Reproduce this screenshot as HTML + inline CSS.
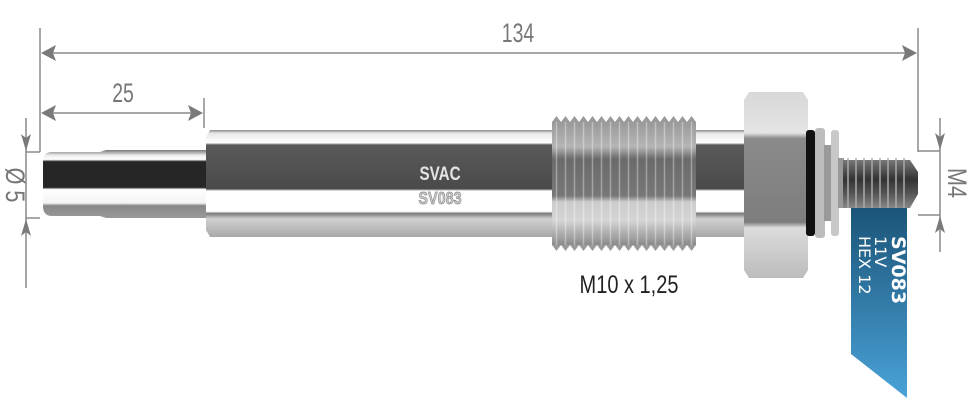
<!DOCTYPE html>
<html><head><style>
html,body{margin:0;padding:0;background:#fff;width:970px;height:403px;overflow:hidden}
</style></head><body>
<svg width="970" height="403" viewBox="0 0 970 403" xmlns="http://www.w3.org/2000/svg" font-family="Liberation Sans, sans-serif">
<defs>
<linearGradient id="body" x1="0" y1="0" x2="0" y2="1">
<stop offset="0" stop-color="#8a8a8a"/><stop offset="0.03" stop-color="#e8e8e8"/><stop offset="0.12" stop-color="#ffffff"/>
<stop offset="0.14" stop-color="#5a5a5a"/><stop offset="0.55" stop-color="#4a4a4a"/>
<stop offset="0.57" stop-color="#ffffff"/><stop offset="0.76" stop-color="#ffffff"/>
<stop offset="0.78" stop-color="#7a7a7a"/><stop offset="0.83" stop-color="#d0d0d0"/><stop offset="1" stop-color="#a8a8a8"/>
</linearGradient>
<linearGradient id="shank" x1="0" y1="0" x2="0" y2="1">
<stop offset="0" stop-color="#777"/><stop offset="0.08" stop-color="#eee"/><stop offset="0.14" stop-color="#fff"/>
<stop offset="0.17" stop-color="#262626"/><stop offset="0.55" stop-color="#262626"/>
<stop offset="0.58" stop-color="#fff"/><stop offset="0.78" stop-color="#f4f4f4"/>
<stop offset="0.82" stop-color="#888"/><stop offset="1" stop-color="#999"/>
</linearGradient>
<linearGradient id="thr" x1="0" y1="0" x2="0" y2="1">
<stop offset="0" stop-color="#999"/><stop offset="0.2" stop-color="#b5b5b5"/><stop offset="0.3" stop-color="#6a6a6a"/>
<stop offset="0.6" stop-color="#777"/><stop offset="0.65" stop-color="#ccc"/><stop offset="0.8" stop-color="#d5d5d5"/><stop offset="1" stop-color="#8a8a8a"/>
</linearGradient>
<pattern id="teeth" x="552" y="0" width="9" height="10" patternUnits="userSpaceOnUse">
<rect width="9" height="10" fill="none"/><line x1="4.5" y1="0" x2="4.5" y2="10" stroke="#ffffff" stroke-opacity="0.35" stroke-width="1.5"/>
</pattern>
<linearGradient id="nut" x1="0" y1="0" x2="0" y2="1">
<stop offset="0" stop-color="#d8d8d8"/><stop offset="0.22" stop-color="#e4e4e4"/><stop offset="0.25" stop-color="#8a8a8a"/>
<stop offset="0.7" stop-color="#7d7d7d"/><stop offset="0.73" stop-color="#dcdcdc"/><stop offset="1" stop-color="#bcbcbc"/>
</linearGradient>
<linearGradient id="term" x1="0" y1="0" x2="0" y2="1">
<stop offset="0" stop-color="#777"/><stop offset="0.4" stop-color="#333"/><stop offset="0.7" stop-color="#555"/><stop offset="1" stop-color="#888"/>
</linearGradient>
<linearGradient id="tag" x1="0" y1="0" x2="0" y2="1">
<stop offset="0" stop-color="#1b5478"/><stop offset="1" stop-color="#4aa2d8"/>
</linearGradient>
</defs>

<g stroke="#8a8a8a" stroke-width="1.5" fill="#7a7a7a">
<line x1="40" y1="28" x2="40" y2="152"/>
<line x1="918" y1="28" x2="918" y2="152"/>
<line x1="44" y1="53" x2="914" y2="53"/>
<polygon points="41,53 56,45 53,53 56,61" stroke="none"/>
<polygon points="917,53 902,45 905,53 902,61" stroke="none"/>
<line x1="204" y1="98" x2="204" y2="128"/>
<line x1="44" y1="113" x2="200" y2="113"/>
<polygon points="41,113 56,105 53,113 56,121" stroke="none"/>
<polygon points="203,113 188,105 191,113 188,121" stroke="none"/>
<line x1="26" y1="118" x2="26" y2="288"/>
<line x1="26" y1="152" x2="40" y2="152"/>
<line x1="26" y1="218" x2="40" y2="218"/>
<polygon points="26,151 21,134 26,138 31,134" stroke="none"/>
<polygon points="26,219 21,236 26,232 31,236" stroke="none"/>
<line x1="940" y1="118" x2="940" y2="252"/>
<line x1="918" y1="151" x2="940" y2="151"/>
<line x1="918" y1="215" x2="940" y2="215"/>
<polygon points="940,150 935,133 940,137 945,133" stroke="none"/>
<polygon points="940,216 935,233 940,229 945,233" stroke="none"/>
</g>
<g fill="#777" font-size="27">
<text transform="translate(518,42) scale(0.72,1)" text-anchor="middle">134</text>
<text transform="translate(123,102) scale(0.72,1)" text-anchor="middle">25</text>
<text transform="translate(6,185) rotate(90) scale(0.8,1)" text-anchor="middle">Ø 5</text>
<text transform="translate(948,183) rotate(90) scale(0.8,1)" text-anchor="middle">M4</text>
</g>

<path d="M52,152 L100,152 L106,150 L206,150 L206,218 L106,218 L100,216 L52,216 Q43,216 43,206 L43,162 Q43,152 52,152 Z" fill="url(#shank)"/>
<path d="M210,130 L555,130 L555,237 L210,237 L206,230 L206,137 Z" fill="url(#body)"/>
<rect x="690" y="130" width="56" height="107" fill="url(#body)"/>
<text transform="translate(440,180) scale(0.8,1)" font-size="19" fill="#e4e4e4" text-anchor="middle" font-weight="bold">SVAC</text>
<text transform="translate(440,204) scale(0.8,1)" font-size="18" fill="#ccc" stroke="#888" stroke-width="0.7" text-anchor="middle" font-weight="bold">SV083</text>
<rect x="552" y="122" width="144" height="123" fill="url(#thr)"/>
<rect x="552" y="122" width="144" height="123" fill="url(#teeth)"/>
<path d="M552,122 l4.5,-6 l4.5,6 l4.5,-6 l4.5,6 l4.5,-6 l4.5,6 l4.5,-6 l4.5,6 l4.5,-6 l4.5,6 l4.5,-6 l4.5,6 l4.5,-6 l4.5,6 l4.5,-6 l4.5,6 l4.5,-6 l4.5,6 l4.5,-6 l4.5,6 l4.5,-6 l4.5,6 l4.5,-6 l4.5,6 l4.5,-6 l4.5,6 l4.5,-6 l4.5,6 l4.5,-6 l4.5,6 l4.5,-6 l4.5,6 Z" fill="#9a9a9a"/>
<path d="M552,245 l4.5,6 l4.5,-6 l4.5,6 l4.5,-6 l4.5,6 l4.5,-6 l4.5,6 l4.5,-6 l4.5,6 l4.5,-6 l4.5,6 l4.5,-6 l4.5,6 l4.5,-6 l4.5,6 l4.5,-6 l4.5,6 l4.5,-6 l4.5,6 l4.5,-6 l4.5,6 l4.5,-6 l4.5,6 l4.5,-6 l4.5,6 l4.5,-6 l4.5,6 l4.5,-6 l4.5,6 l4.5,-6 l4.5,6 l4.5,-6 Z" fill="#9a9a9a"/>
<path d="M749,92 L803,92 L808,100 L808,270 L803,278 L749,278 L744,270 L744,100 Z" fill="url(#nut)"/>
<rect x="806" y="130" width="9" height="106" rx="3" fill="#111"/>
<rect x="815" y="128" width="10" height="110" rx="3" fill="#bdbdbd"/>
<rect x="824" y="145" width="8" height="76" fill="#9a9a9a"/>
<rect x="831" y="130" width="8" height="106" rx="3" fill="#c8c8c8"/>
<rect x="838" y="158" width="6" height="50" fill="#999"/>
<path d="M843,160 L910,160 L918,172 L918,194 L910,208 L843,208 Z" fill="url(#term)"/>
<g stroke="#aaa" stroke-width="1.5">
<line x1="848" y1="158" x2="848" y2="208"/><line x1="856" y1="158" x2="856" y2="208"/><line x1="864" y1="158" x2="864" y2="208"/>
<line x1="872" y1="158" x2="872" y2="208"/><line x1="880" y1="158" x2="880" y2="208"/><line x1="888" y1="158" x2="888" y2="208"/>
<line x1="896" y1="158" x2="896" y2="208"/><line x1="904" y1="158" x2="904" y2="208"/>
</g>
<polygon points="851,208 907,208 907,398 851,354" fill="url(#tag)"/>
<g fill="#fff" transform="translate(880,236) rotate(90)">
<text x="0" y="-12" font-size="19" font-weight="bold" font-family="DejaVu Sans, sans-serif">SV083</text>
<text x="0" y="5" font-size="16" font-family="DejaVu Sans, sans-serif">11V</text>
<text x="0" y="21" font-size="16" font-family="DejaVu Sans, sans-serif">HEX 12</text>
</g>
<text transform="translate(629,293) scale(0.8,1)" font-size="25" fill="#222" text-anchor="middle">M10 x 1,25</text>
</svg>
</body></html>
